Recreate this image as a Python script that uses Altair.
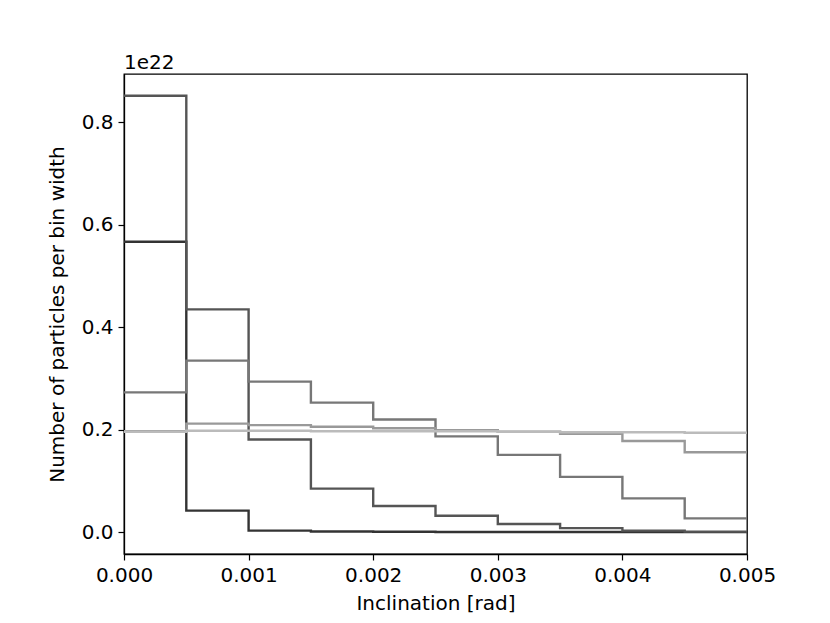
import altair as alt
import pandas as pd

# Bin edges (inclination, rad)
edges = [0.0, 0.0005, 0.0010, 0.0015, 0.0020, 0.0025, 0.0030, 0.0035, 0.0040, 0.0045, 0.0050]

# Counts per bin width (units of 1e22), one list per histogram
s1 = [0.567, 0.042, 0.003, 0.0012, 0.0008, 0.0005, 0.0004, 0.0003, 0.0002, 0.0001]
s2 = [0.852, 0.435, 0.181, 0.085, 0.051, 0.032, 0.016, 0.008, 0.003, 0.001]
s3 = [0.273, 0.335, 0.294, 0.253, 0.220, 0.187, 0.151, 0.108, 0.066, 0.027]
s4 = [0.197, 0.212, 0.209, 0.206, 0.203, 0.199, 0.196, 0.192, 0.178, 0.156]
s5 = [0.196, 0.198, 0.198, 0.197, 0.197, 0.197, 0.196, 0.195, 0.195, 0.194]

names = ["s1", "s2", "s3", "s4", "s5"]
colors = ["#333333", "#555555", "#777777", "#999999", "#bbbbbb"]
series = [s1, s2, s3, s4, s5]

x_ticks = [0, 0.001, 0.002, 0.003, 0.004, 0.005]
y_ticks = [0, 0.2, 0.4, 0.6, 0.8]
offset_text = ["1e22"]

rows = []
for order, (name, vals) in enumerate(zip(names, series)):
    for i, x in enumerate(edges):
        v = vals[i] if i < len(vals) else vals[-1]
        rows.append({"series": name, "x": x, "y": v, "order": order})
df = pd.DataFrame(rows)

FONT = "DejaVu Sans"
FS = 20

lines = alt.Chart(df).mark_line(interpolate="step-after", strokeWidth=2.4, clip=True).encode(
    x=alt.X("x:Q", scale=alt.Scale(domain=[0, 0.005], nice=False, zero=False),
            axis=alt.Axis(title="Inclination [rad]", values=x_ticks, format=".3f",
                          labelFlush=False, labelOverlap=False)),
    y=alt.Y("y:Q", scale=alt.Scale(domain=[-0.0426, 0.8946], nice=False, zero=False),
            axis=alt.Axis(title="Number of particles per bin width", values=y_ticks,
                          format=".1f", labelFlush=False, labelOverlap=False)),
    color=alt.Color("series:N", scale=alt.Scale(domain=names, range=colors), legend=None),
    detail="series:N",
    order="order:Q",
)

label = alt.Chart(pd.DataFrame({"t": offset_text})).mark_text(
    align="left", baseline="alphabetic", font=FONT, fontSize=FS, color="black", clip=False
).encode(
    text="t:N",
    x=alt.value(0),
    y=alt.value(-5),
)

chart = alt.layer(lines, label).properties(
    width=623,
    height=480,
    autosize=alt.AutoSizeParams(type="none"),
    padding={"left": 116, "top": 66, "right": 60, "bottom": 60},
).configure_view(
    stroke="black", strokeWidth=1.3
).configure_axis(
    grid=False,
    domainColor="black",
    domainWidth=1.3,
    tickColor="black",
    tickSize=6,
    tickWidth=1.2,
    labelFont=FONT,
    labelFontSize=FS,
    labelColor="black",
    labelPadding=5,
    titleFont=FONT,
    titleFontSize=FS,
    titleFontWeight="normal",
    titleColor="black",
).configure_axisX(
    titlePadding=8,
).configure_axisY(
    titlePadding=14,
)

chart.save("out.html", embed_options={"renderer": "svg", "actions": False})
